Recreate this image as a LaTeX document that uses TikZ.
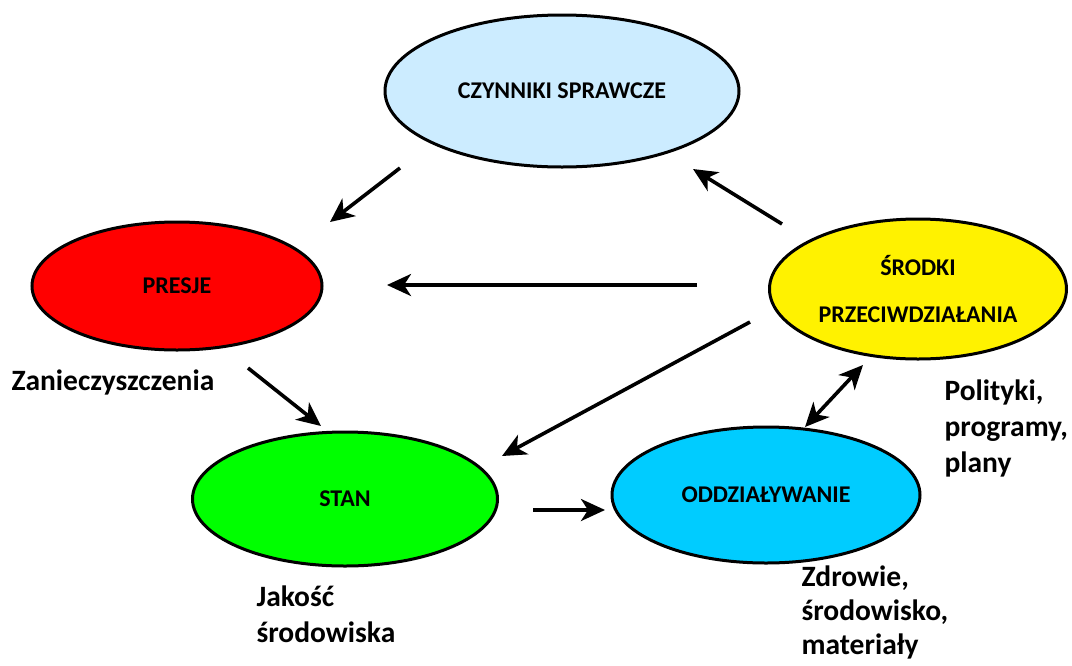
\documentclass[tikz,border=0pt]{standalone}
\usepackage{fontspec}
\setmainfont{Carlito}
\usetikzlibrary{shapes.geometric,arrows.meta}
\tikzset{
  blob/.style={ellipse,draw=black,line width=3pt,inner sep=0pt,font=\bfseries\fontsize{24}{28}\selectfont},
  note/.style={anchor=west,align=left,font=\bfseries\fontsize{29.5}{36}\selectfont},
  arr/.style={line width=3.6pt,-{Stealth[length=24pt,width=22pt,inset=7pt]}},
  darr/.style={line width=3.6pt,{Stealth[length=24pt,width=22pt,inset=7pt]}-{Stealth[length=24pt,width=22pt,inset=7pt]}},
}
\definecolor{paleblue}{RGB}{204,236,255}
\definecolor{skyblue}{RGB}{0,204,255}
\begin{document}
\begin{tikzpicture}[x=1pt,y=-1pt,line cap=butt,line join=miter]
	\useasboundingbox (0,0) rectangle (1072,665);
	% ellipses
	\node[blob,fill=paleblue,minimum width=354pt,minimum height=152pt] (czyn) at (562,91) {CZYNNIKI SPRAWCZE};
	\node[blob,fill=red,minimum width=290pt,minimum height=128pt] (presje) at (177,286) {PRESJE};
	\node[blob,fill=green,minimum width=305pt,minimum height=134pt] (stan) at (345,499) {STAN};
	\node[blob,fill=skyblue,minimum width=308pt,minimum height=136pt] (oddz) at (766,495) {ODDZIAŁYWANIE};
	\node[blob,fill=yellow,minimum width=297pt,minimum height=140pt,align=center,font=\bfseries\fontsize{24}{47}\selectfont] (srodki) at (918,289) {ŚRODKI\\PRZECIWDZIAŁANIA};
	% labels
	\node[note] (zan) at (8,382) {Zanieczyszczenia};
	\node[note] (pol) at (941,428) {Polityki,\\programy,\\plany};
	\node[note] (jak) at (253,614) {Jakość\\środowiska};
	\node[note,font=\bfseries\fontsize{29.5}{34}\selectfont] (zdr) at (798,612) {Zdrowie,\\środowisko,\\materiały};
	% arrow ends
	\coordinate (a1) at (400,168); \coordinate (b1) at (330,222);
	\coordinate (a2) at (782,224); \coordinate (b2) at (693,169);
	\coordinate (a3) at (697,285); \coordinate (b3) at (387,285);
	\coordinate (a4) at (248,368); \coordinate (b4) at (321,426);
	\coordinate (a5) at (750,322); \coordinate (b5) at (502,456);
	\coordinate (a6) at (533,510); \coordinate (b6) at (605,510);
	\coordinate (a7) at (805,427); \coordinate (b7) at (863,365);
	\draw[arr] (a1)--(b1);
	\draw[arr] (a2)--(b2);
	\draw[arr] (a3)--(b3);
	\draw[arr] (a4)--(b4);
	\draw[arr] (a5)--(b5);
	\draw[arr] (a6)--(b6);
	\draw[darr] (a7)--(b7);
\end{tikzpicture}
\end{document}
